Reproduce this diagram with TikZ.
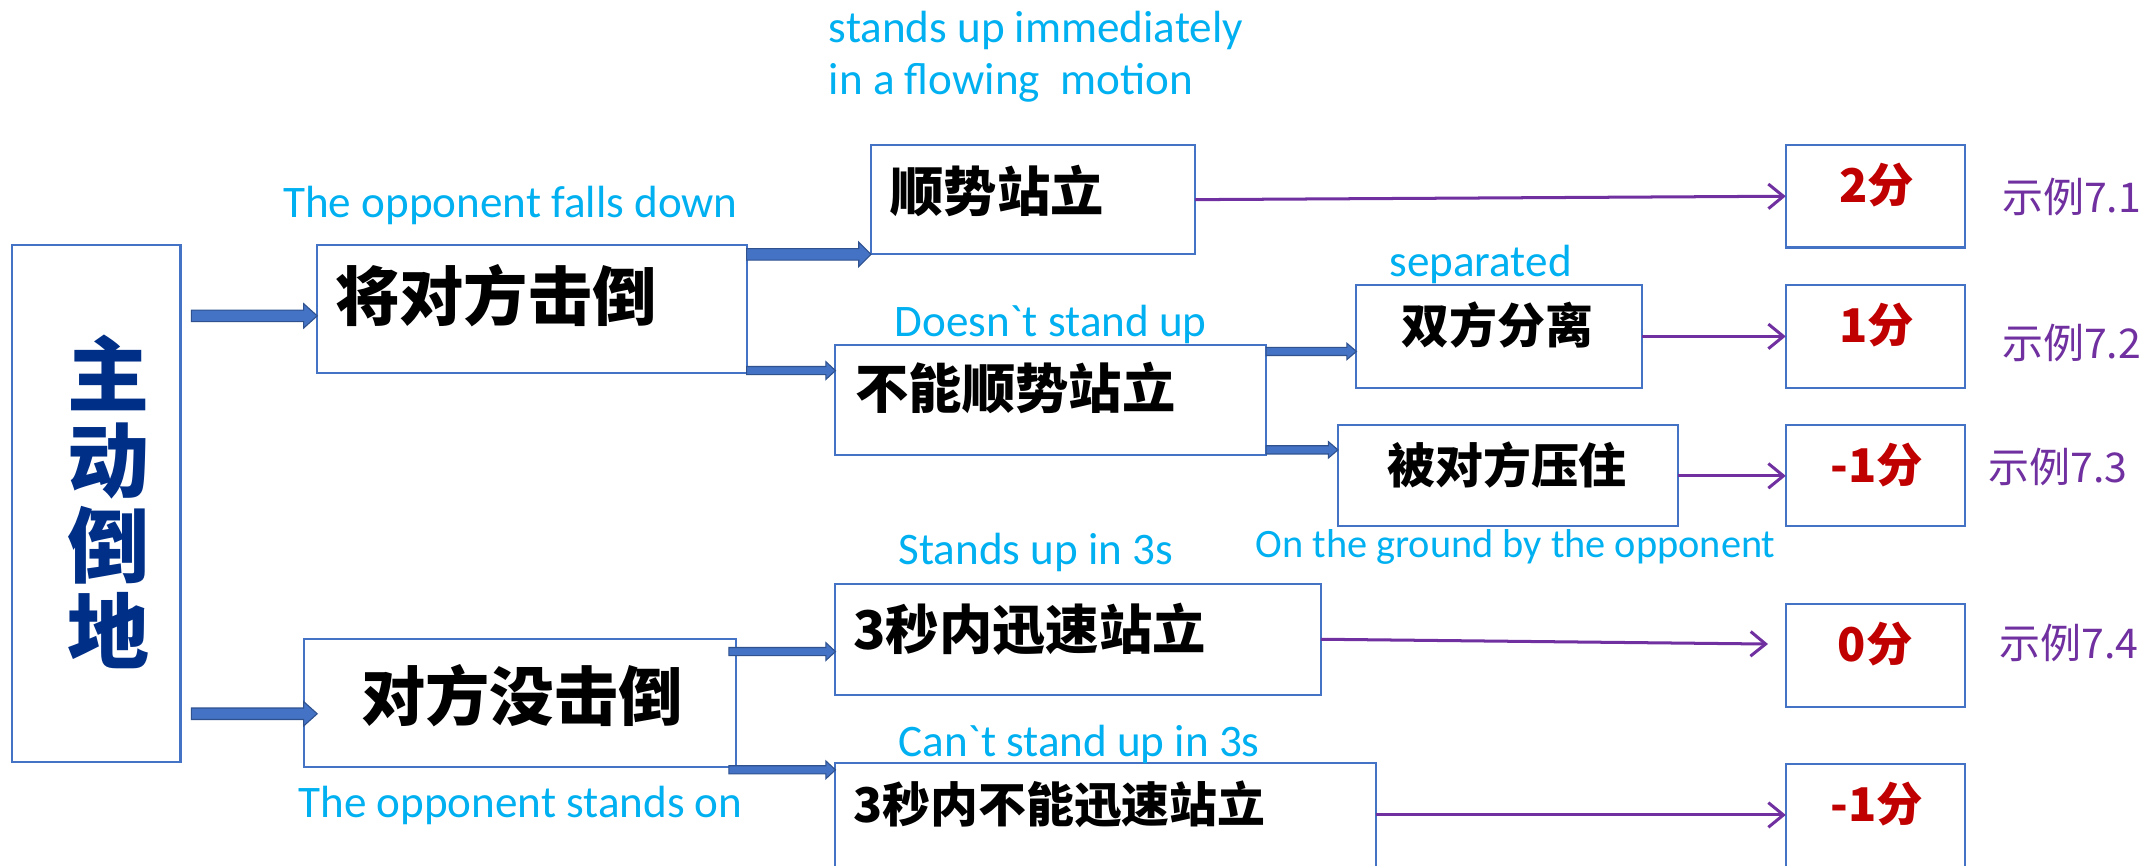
\documentclass[tikz,border=0pt]{standalone}
\usepackage{fontspec}
\newfontfamily\cjk{Noto Sans CJK SC}
\newfontfamily\lat{Carlito}[Ligatures=TeXOff]
\usetikzlibrary{arrows.meta,calc}
\definecolor{boxblue}{HTML}{4472C4}
\definecolor{arrowedge}{HTML}{2F528F}
\definecolor{cyantext}{HTML}{00B0F0}
\definecolor{purp}{HTML}{7030A0}
\definecolor{scorered}{HTML}{C00000}
\definecolor{navy}{RGB}{0,47,135}
\newcommand\blockarrow[5]{%
  \filldraw[barrow] let \p1=(#1), \p2=(#2) in
    (\x1,\y1+#3) -- (\x2-#5,\y1+#3) -- (\x2-#5,\y1+#4) -- (\x2,\y1)
    -- (\x2-#5,\y1-#4) -- (\x2-#5,\y1-#3) -- (\x1,\y1-#3) -- cycle;}
\begin{document}
\begin{tikzpicture}[x=1pt,y=-1pt,
  box/.style={draw=boxblue,line width=1.5pt,fill=white,rectangle,inner sep=0pt,outer sep=0pt},
  tbig/.style={font=\cjk\bfseries\fontsize{47}{50}\selectfont,inner sep=0pt,anchor=west},
  tmid/.style={font=\cjk\bfseries\fontsize{39}{42}\selectfont,inner sep=0pt,anchor=west},
  tsml/.style={font=\cjk\bfseries\fontsize{35}{38}\selectfont,inner sep=0pt,anchor=west},
  en/.style={font=\lat\fontsize{33}{38}\selectfont,text=cyantext,inner sep=0pt,anchor=base west},
  score/.style={font=\cjk\bfseries\fontsize{34}{36}\selectfont,text=scorered,inner sep=0pt},
  ex/.style={font=\cjk\fontsize{30}{32}\selectfont,text=purp,inner sep=0pt,anchor=west},
  maintxt/.style={font=\cjk\bfseries\fontsize{60}{62.5}\selectfont,text=navy,align=center,inner sep=0pt},
  barrow/.style={fill=boxblue,draw=arrowedge,line width=0.8pt},
  parrow/.style={draw=purp,line width=2.2pt,-{Straight Barb[length=11pt,width=18pt]}}]
\useasboundingbox (0,0) rectangle (1568,633);
\clip (0,0) rectangle (1568,633);
\fill[white] (0,0) rectangle (1568,633);

% boxes
\node[box,minimum width=123pt,minimum height=378pt] (A) at (70.5,368) {};
\node[box,minimum width=314pt,minimum height=94pt] (B1) at (389,226) {};
\node[box,minimum width=316pt,minimum height=94pt] (B2) at (380,514) {};
\node[box,minimum width=237pt,minimum height=80pt] (C1) at (755.5,146) {};
\node[box,minimum width=315pt,minimum height=81pt] (C2) at (768.5,292.5) {};
\node[box,minimum width=209pt,minimum height=75pt] (D1) at (1096.5,246) {};
\node[box,minimum width=249pt,minimum height=74pt] (D2) at (1103,348) {};
\node[box,minimum width=355pt,minimum height=81pt] (E1) at (788.5,467.5) {};
\node[box,minimum width=395pt,minimum height=100pt] (E2) at (808.5,608) {};
\node[box,minimum width=131pt,minimum height=75pt] (F1) at (1371.5,143.5) {};
\node[box,minimum width=131pt,minimum height=75pt] (F2) at (1371.5,246) {};
\node[box,minimum width=131pt,minimum height=74pt] (F3) at (1371.5,348) {};
\node[box,minimum width=131pt,minimum height=75pt] (F4) at (1371.5,479.5) {};
\node[box,minimum width=131pt,minimum height=100pt] (F5) at (1371.5,609) {};

% thick block arrows
\blockarrow{$(A.east|-B1.west)+(8,5)$}{$(B1.west)+(0,5)$}{4.2pt}{9pt}{10pt}
\blockarrow{$(A.east|-B2.west)+(8,8)$}{$(B2.west)+(10,8)$}{4.2pt}{9pt}{10pt}
\blockarrow{B1.east|-C1.south}{C1.south west}{4.2pt}{9pt}{9pt}
\blockarrow{$(B1.east|-C2.west)+(0,-21.5)$}{$(C2.west)+(0,-21.5)$}{3pt}{6.5pt}{7pt}
\blockarrow{$(C2.east|-D1.west)+(0,11)$}{$(D1.west)+(0,11)$}{3pt}{6pt}{7pt}
\blockarrow{$(C2.east|-D2.west)+(0,-19)$}{$(D2.west)+(0,-19)$}{3pt}{6pt}{7pt}
\blockarrow{$(B2.east|-E1.west)+(-5,9)$}{$(E1.west)+(0,9)$}{3pt}{6.5pt}{7pt}
\blockarrow{$(B2.east|-E2.north west)+(-5,5)$}{$(E2.north west)+(0,5)$}{3pt}{6.5pt}{7pt}

% purple arrows
\draw[parrow] (C1.east) -- (F1.west);
\draw[parrow] (D1.east) -- (D1.east -| F2.west);
\draw[parrow] (D2.east) -- (D2.east -| F3.west);
\draw[parrow] (E1.east) -- ($(F4.west)+(-13,-8.5)$);
\draw[parrow] ($(E2.north east)+(0,38)$) -- ($(E2.north east -| F5.west)+(0,38)$);

% box texts
\node[maintxt] (tA) at (79,367) {主\\动\\倒\\地};
\node[tbig] (tB1) at (245,216) {将对方击倒};
\node[tbig] (tB2) at (264,509) {对方没击倒};
\node[tmid] (tC1) at (651,140) {顺势站立};
\node[tmid] (tC2) at (625.5,284) {不能顺势站立};
\node[tmid] (tE1) at (624,460) {3秒内迅速站立};
\node[tsml] (tE2) at (624,588) {3秒内不能迅速站立};
\node[tsml] (tD1) at (1025,238) {双方分离};
\node[tsml] (tD2) at (1014.5,340) {被对方压住};

% scores
\node[score] (s1) at ($(F1.north)+(1,29)$) {2分};
\node[score] (s2) at ($(F2.north)+(1,29)$) {1分};
\node[score] (s3) at ($(F3.north)+(1,29)$) {-1分};
\node[score] (s4) at ($(F4.north)+(0,29)$) {0分};
\node[score] (s5) at ($(F5.north)+(1,29)$) {-1分};

% examples
\node[ex] (x1) at (1464,144) {示例7.1};
\node[ex] (x2) at (1464,251) {示例7.2};
\node[ex] (x3) at (1454,341.5) {示例7.3};
\node[ex] (x4) at (1462,470) {示例7.4};

% cyan labels
\node[en] (l1a) at (606,31) {stands up immediately};
\node[en] (l1b) at (606,69) {in a flowing\ \ motion};
\node[en] (l2) at (207,159) {The opponent falls down};
\node[en] (l3) at (654,246) {Doesn`t stand up};
\node[en] (l4) at (1016,202) {separated};
\node[en,font=\lat\fontsize{29.5}{34}\selectfont] (l5) at (918,408) {On the ground by the opponent};
\node[en] (l6) at (657,413) {Stands up in 3s};
\node[en] (l7) at (657,553.5) {Can`t stand up in 3s};
\node[en] (l8) at (218,597.5) {The opponent stands on};
\end{tikzpicture}
\end{document}
